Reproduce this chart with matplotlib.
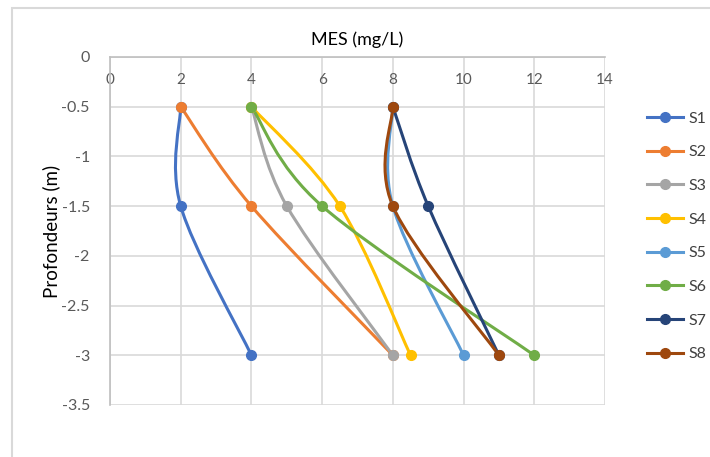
import matplotlib
matplotlib.use("Agg")
import matplotlib.pyplot as plt
from matplotlib.path import Path
from matplotlib.patches import PathPatch, Rectangle
from matplotlib.lines import Line2D
from matplotlib.ticker import FuncFormatter

# depths (m) and MES values (mg/L) per station
depths = [-0.5, -1.5, -3]
series_names = ["S1", "S2", "S3", "S4", "S5", "S6", "S7", "S8"]
s1 = [2, 2, 4]
s2 = [2, 4, 8]
s3 = [4, 5, 8]
s4 = [4, 6.5, 8.5]
s5 = [8, 8, 10]
s6 = [4, 6, 12]
s7 = [8, 9, 11]
s8 = [8, 8, 11]
all_series = [s1, s2, s3, s4, s5, s6, s7, s8]
colors = ["#4472C4", "#ED7D31", "#A5A5A5", "#FFC000",
          "#5B9BD5", "#70AD47", "#264478", "#9E480E"]

x_ticks = [0, 2, 4, 6, 8, 10, 12, 14]
y_ticks = [0, -0.5, -1, -1.5, -2, -2.5, -3, -3.5]

plt.rcParams['font.family'] = ['Lato', 'DejaVu Sans']
plt.rcParams['axes.unicode_minus'] = False


def smooth_path(xs, ys):
    # excel-like smoothed line: cubic bezier segments through the points
    pts = list(zip(xs, ys))
    n = len(pts)
    verts = [pts[0]]
    codes = [Path.MOVETO]
    for i in range(n - 1):
        p0 = pts[i - 1] if i > 0 else pts[i]
        p1 = pts[i]
        p2 = pts[i + 1]
        p3 = pts[i + 2] if i + 2 < n else pts[i + 1]
        c1 = (p1[0] + (p2[0] - p0[0]) / 6, p1[1] + (p2[1] - p0[1]) / 6)
        c2 = (p2[0] - (p3[0] - p1[0]) / 6, p2[1] - (p3[1] - p1[1]) / 6)
        verts += [c1, c2, p2]
        codes += [Path.CURVE4] * 3
    return Path(verts, codes)


fig = plt.figure(figsize=(7.1, 4.57), dpi=100)
fig.patches.append(Rectangle((12 / 710, -0.1), 1.2, 1 - 8 / 457 + 0.1,
                             transform=fig.transFigure, fill=False,
                             edgecolor="#D9D9D9", linewidth=1.5))
ax = fig.add_axes([110 / 710, 1 - 405 / 457, 495 / 710, 348 / 457])

handles = []
for name, vals, c in zip(series_names, all_series, colors):
    ax.add_patch(PathPatch(smooth_path(vals, depths), fill=False,
                           edgecolor=c, linewidth=2.2, zorder=3))
    ax.plot(vals, depths, 'o', color=c, markersize=7, zorder=4)
    handles.append(Line2D([], [], color=c, linewidth=2.2, marker='o',
                          markersize=7, label=name))

ax.set_xlim(0, 14)
ax.set_ylim(-3.5, 0)
ax.set_xticks(x_ticks)
ax.set_yticks(y_ticks)
ax.yaxis.set_major_formatter(FuncFormatter(lambda v, p: '{:g}'.format(v)))
ax.grid(True, color="#D9D9D9", linewidth=1.2)
ax.set_axisbelow(True)

for side in ["right", "bottom"]:
    ax.spines[side].set_visible(False)
for side in ["left", "top"]:
    ax.spines[side].set_color("#BFBFBF")
    ax.spines[side].set_linewidth(1.2)

ax.tick_params(axis='x', top=False, bottom=False, labeltop=True,
               labelbottom=False, pad=-25, labelsize=11, labelcolor="#595959")
ax.tick_params(axis='y', left=False, pad=11, labelsize=11.5,
               labelcolor="#595959")

ax.set_title("MES (mg/L)", fontsize=13, color="#000000", pad=9)
ax.set_ylabel("Profondeurs (m)", fontsize=13.5)
ax.yaxis.set_label_coords(-0.101, 0.5)

ax.legend(handles=handles, loc='upper left', bbox_to_anchor=(1.055, 0.885),
          frameon=False, fontsize=11.5, handlelength=2.3, labelspacing=1.22,
          handletextpad=0.3, labelcolor="#404040")

fig.savefig("out.png", dpi=100)
